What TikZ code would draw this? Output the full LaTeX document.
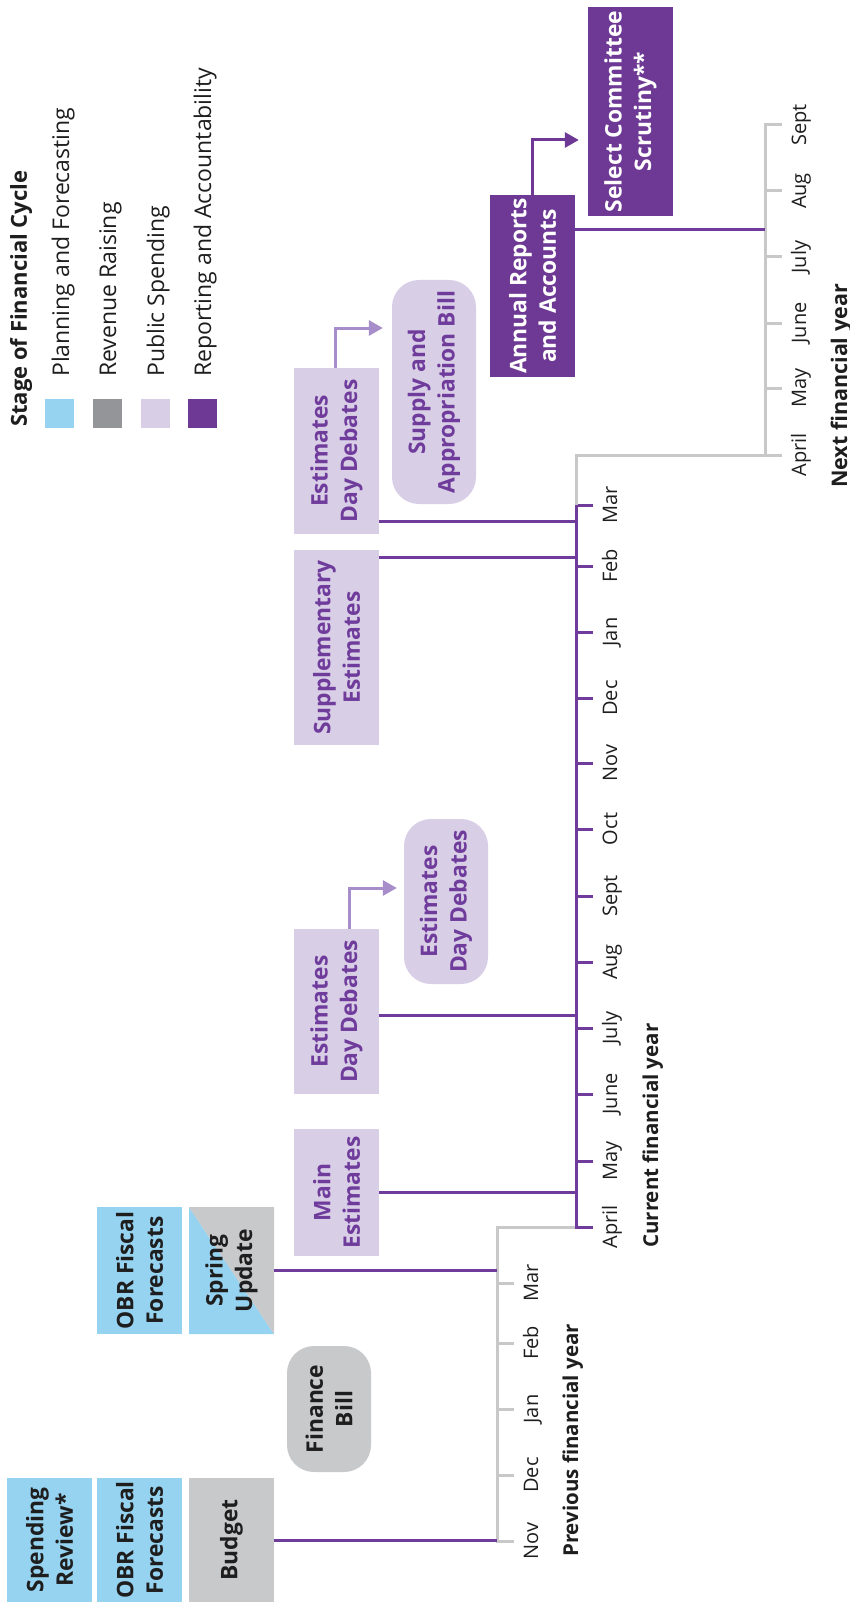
\documentclass[tikz,border=0pt]{standalone}
\usepackage{fontspec}
\setmainfont{Open Sans}
\usetikzlibrary{arrows.meta}

\definecolor{planblue}{HTML}{96D3F1}
\definecolor{revgrey}{HTML}{C8C9CB}
\definecolor{legendgrey}{HTML}{939598}
\definecolor{spendlav}{HTML}{D8CEE6}
\definecolor{reportpurple}{HTML}{6E3994}
\definecolor{linepurple}{HTML}{6F3C9C}
\definecolor{arrowlav}{HTML}{A78DC9}
\definecolor{axisgrey}{HTML}{C8C8C8}
\definecolor{inkblack}{HTML}{1E1E1E}

\begin{document}
\begin{tikzpicture}[x=1pt,y=-1pt,
  box/.style={rotate=90, inner sep=0pt, align=center, text=inkblack,
    font=\bfseries\fontsize{22.8}{29.5}\selectfont},
  plan/.style={box, fill=planblue},
  revenue/.style={box, fill=revgrey},
  spend/.style={box, fill=spendlav, text=linepurple},
  report/.style={box, fill=reportpurple, text=white},
  pill/.style={rounded corners=27pt},
  conn/.style={draw=linepurple, line width=3pt},
  axis/.style={draw=axisgrey, line width=3pt, line join=miter},
  curaxisline/.style={draw=linepurple, line width=3pt, line join=miter},
  arr/.style={draw=arrowlav, line width=3pt, line join=miter,
    -{Triangle[length=14pt,width=15pt]}},
  month/.style={rotate=90, anchor=base, inner sep=0pt, text=inkblack,
    font=\fontsize{20}{24}\selectfont},
  yearlab/.style={rotate=90, anchor=base west, inner sep=0pt, text=inkblack,
    font=\bfseries\fontsize{20.5}{24}\selectfont},
  legendlab/.style={rotate=90, anchor=base west, inner sep=0pt, text=inkblack,
    font=\fontsize{23}{27}\selectfont}
]
\fill[white] (0,0) rectangle (850,1602);
\useasboundingbox (0,0) rectangle (850,1602);

% ---------- legend ----------
\node[legendlab, font=\bfseries\fontsize{22}{26}\selectfont] (legtitle) at (27,427) {Stage of Financial Cycle};
\fill[planblue]     (45,399) rectangle (74,428);
\fill[legendgrey]   (93,399) rectangle (122,428);
\fill[spendlav]     (141,399) rectangle (170,428);
\fill[reportpurple] (188,399) rectangle (217,428);
\node[legendlab] (leg1) at (69,377)  {Planning and Forecasting};
\node[legendlab] (leg2) at (116,377) {Revenue Raising};
\node[legendlab] (leg3) at (164,377) {Public Spending};
\node[legendlab] (leg4) at (211,377) {Reporting and Accountability};

% ---------- stage boxes ----------
\node[plan, minimum width=124pt, minimum height=85pt] (spendrev) at (49.5,1540) {Spending\\Review*};
\node[plan, minimum width=124pt, minimum height=85pt] (obra) at (139.5,1540) {OBR Fiscal\\Forecasts};
\node[revenue, minimum width=124pt, minimum height=85pt] (budget) at (231.5,1540) {Budget};
\node[plan, minimum width=127pt, minimum height=85pt] (obrb) at (139.5,1270.5) {OBR Fiscal\\Forecasts};
% spring update: half forecasting, half revenue
\fill[planblue] (189,1207) -- (189,1334) -- (274,1334) -- cycle;
\fill[revgrey]  (189,1207) -- (274,1207) -- (274,1334) -- cycle;
\node[box, minimum width=127pt, minimum height=85pt] (spring) at (231.5,1270.5) {Spring\\Update};
\node[revenue, pill, minimum width=126pt, minimum height=84pt] (finance) at (329,1409) {Finance\\Bill};

\node[spend, minimum width=127pt, minimum height=85pt] (mainest) at (336.5,1192.5) {Main\\Estimates};
\node[spend, minimum width=165pt, minimum height=85pt] (edda) at (336.5,1011.5) {Estimates\\Day Debates};
\node[spend, pill, minimum width=165pt, minimum height=84pt] (eddb) at (446,901.5) {Estimates\\Day Debates};
\node[spend, minimum width=195pt, minimum height=85pt] (supp) at (336.5,647.5) {Supplementary\\Estimates};
\node[spend, minimum width=166pt, minimum height=85pt] (eddc) at (336.5,451) {Estimates\\Day Debates};
\node[spend, pill, minimum width=224pt, minimum height=84pt] (supply) at (434,392) {Supply and\\Appropriation Bill};

\node[report, minimum width=182pt, minimum height=85pt] (annual) at (532.5,286) {Annual Reports\\and Accounts};
\node[report, minimum width=209pt, minimum height=85pt] (select) at (630.5,111.5) {Select Committee\\Scrutiny**};

% ---------- timeline axes ----------
\coordinate (prevaxis) at (497,1227);
\coordinate (curaxis)  at (576,1227);
\coordinate (nextaxis) at (765,455);

% previous financial year
\draw[axis] (514,1541) -- (497,1541) -- (497,1227) -- (576,1227);
\foreach \y/\m in {1475/Dec,1409/Jan,1343/Feb,1283/Mar}
  \draw[axis] (497,\y) -- (514,\y);
\foreach \y/\m in {1541/Nov,1475/Dec,1409/Jan,1343/Feb,1283/Mar}
  \node[month] (p-\m) at (538,\y) {\m};
\node[yearlab] (prevyear) at (578,1557) {Previous financial year};

% current financial year
\draw[curaxisline] (593,1227) -- (576,1227) -- (576,505) -- (593,505);
\foreach \y in {1161,1094,1028,962,896,829,763,698,632,566}
  \draw[curaxisline] (576,\y) -- (593,\y);
\foreach \y/\m in {1227/April,1161/May,1094/June,1028/July,962/Aug,896/Sept,829/Oct,763/Nov,698/Dec,632/Jan,566/Feb,505/Mar}
  \node[month] (c-\m) at (617,\y) {\m};
\node[yearlab] (curyear) at (658,1248) {Current financial year};

% next financial year
\draw[axis] (576,505) -- (576,455) -- (765,455) -- (765,125) -- (782,125);
\foreach \y in {455,388,323,257,191}
  \draw[axis] (765,\y) -- (782,\y);
\foreach \y/\m in {455/April,388/May,323/June,257/July,191/Aug,125/Sept}
  \node[month] (n-\m) at (806,\y) {\m};
\node[yearlab, font=\bfseries\fontsize{21.5}{24}\selectfont] (nextyear) at (847,488) {Next financial year};

% ---------- connectors to the timeline ----------
\draw[conn] (budget.south) -- (budget.south -| prevaxis);
\draw[conn] (spring.south) -- (spring.south -| prevaxis);
\draw[conn] (mainest.south) -- (mainest.south -| curaxis);
\coordinate (edda-out) at ([yshift=-4pt]edda.south);
\draw[conn] (edda-out) -- (edda-out -| curaxis);
\coordinate (supp-out) at ([yshift=-8pt]supp.south east);
\draw[conn] (supp-out) -- (supp-out -| curaxis);
\coordinate (eddc-out) at ([yshift=13pt]eddc.south west);
\draw[conn] (eddc-out) -- (eddc-out -| curaxis);
\coordinate (annual-out) at ([yshift=-35pt]annual.south east);
\draw[conn, line width=2.6pt] (annual-out) -- (annual-out -| nextaxis);

% ---------- follow-on arrows ----------
\draw[arr] ([xshift=12.5pt]edda.east) |- ([xshift=-7pt,yshift=13.5pt]eddb.north);
\draw[arr] ([xshift=-1.5pt]eddc.east) |- ([xshift=-9pt,yshift=64pt]supply.north);
\draw[arr, draw=reportpurple] (annual.east) |- ([xshift=-9pt,yshift=-28.5pt]select.north);
\end{tikzpicture}
\end{document}
